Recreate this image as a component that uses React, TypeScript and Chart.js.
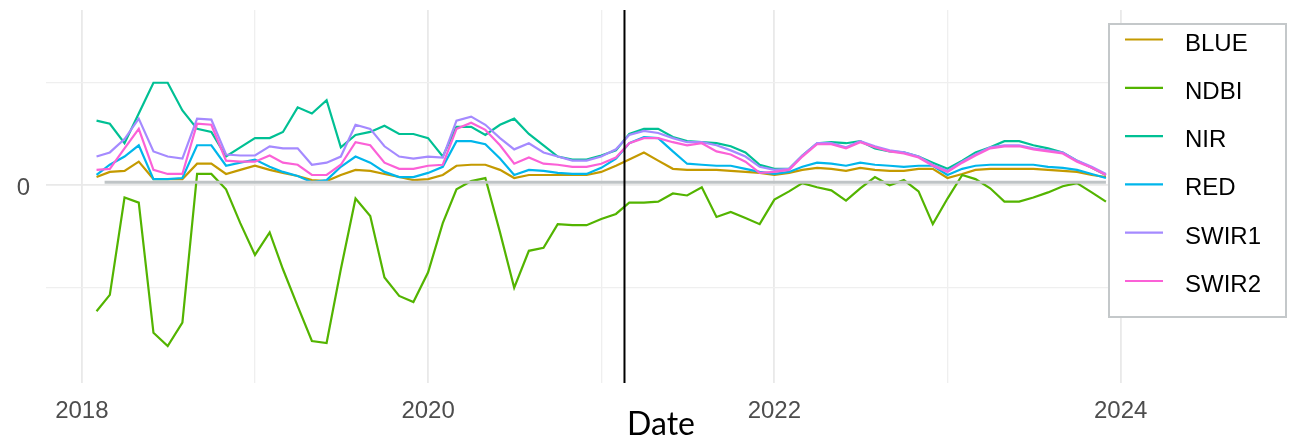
import React, { useEffect, useRef } from "react";
import { Chart, registerables } from "chart.js";

Chart.register(...registerables);

const DATES = [
  "2018-02-01", "2018-03-01", "2018-04-01", "2018-05-01", "2018-06-01", "2018-07-01", "2018-08-01", "2018-09-01", "2018-10-01", "2018-11-01", "2018-12-01",
  "2019-01-01", "2019-02-01", "2019-03-01", "2019-04-01", "2019-05-01", "2019-06-01", "2019-07-01", "2019-08-01", "2019-09-01", "2019-10-01", "2019-11-01", "2019-12-01",
  "2020-01-01", "2020-02-01", "2020-03-01", "2020-04-01", "2020-05-01", "2020-06-01", "2020-07-01", "2020-08-01", "2020-09-01", "2020-10-01", "2020-11-01", "2020-12-01",
  "2021-01-01", "2021-02-01", "2021-03-01", "2021-04-01", "2021-05-01", "2021-06-01", "2021-07-01", "2021-08-01", "2021-09-01", "2021-10-01", "2021-11-01", "2021-12-01",
  "2022-01-01", "2022-02-01", "2022-03-01", "2022-04-01", "2022-05-01", "2022-06-01", "2022-07-01", "2022-08-01", "2022-09-01", "2022-10-01", "2022-11-01", "2022-12-01",
  "2023-01-01", "2023-02-01", "2023-03-01", "2023-04-01", "2023-05-01", "2023-06-01", "2023-07-01", "2023-08-01", "2023-09-01", "2023-10-01", "2023-11-01", "2023-12-01",
];

const BLUE = [
  0.08, 0.13, 0.14, 0.23, 0.06, 0.06, 0.06, 0.21, 0.21, 0.11, 0.15,
  0.19, 0.15, 0.12, 0.09, 0.05, 0.04, 0.10, 0.15, 0.14, 0.11, 0.08, 0.05,
  0.06, 0.10, 0.19, 0.20, 0.20, 0.15, 0.07, 0.10, 0.10, 0.10, 0.10, 0.10,
  0.13, 0.19, 0.25, 0.32, 0.24, 0.16, 0.15, 0.15, 0.15, 0.14, 0.13, 0.12,
  0.10, 0.12, 0.15, 0.17, 0.16, 0.14, 0.17, 0.15, 0.14, 0.14, 0.16, 0.16,
  0.07, 0.11, 0.15, 0.16, 0.16, 0.16, 0.16, 0.15, 0.14, 0.13, 0.10, 0.08,
];

const NDBI = [
  -1.23, -1.07, -0.12, -0.17, -1.44, -1.57, -1.34, 0.11, 0.11, -0.04, -0.37,
  -0.68, -0.46, -0.82, -1.18, -1.52, -1.54, -0.82, -0.13, -0.30, -0.90, -1.08, -1.14,
  -0.85, -0.37, -0.04, 0.04, 0.07, -0.46, -1.0, -0.64, -0.61, -0.38, -0.39, -0.39,
  -0.33, -0.28, -0.17, -0.17, -0.16, -0.08, -0.10, -0.02, -0.31, -0.26, -0.32, -0.38,
  -0.14, -0.06, 0.02, -0.02, -0.05, -0.15, -0.03, 0.08, 0.0, 0.05, -0.06, -0.38,
  -0.13, 0.10, 0.06, -0.03, -0.16, -0.16, -0.12, -0.07, -0.01, 0.02, -0.07, -0.16,
];

const NIR = [
  0.63, 0.60, 0.41, 0.70, 1.0, 1.0, 0.73, 0.55, 0.52, 0.28, 0.37,
  0.46, 0.46, 0.52, 0.76, 0.70, 0.83, 0.37, 0.49, 0.52, 0.58, 0.50, 0.50,
  0.46, 0.28, 0.57, 0.57, 0.49, 0.59, 0.65, 0.50, 0.39, 0.28, 0.25, 0.25,
  0.29, 0.34, 0.50, 0.55, 0.55, 0.47, 0.43, 0.42, 0.41, 0.38, 0.32, 0.20,
  0.16, 0.16, 0.29, 0.41, 0.42, 0.41, 0.43, 0.36, 0.33, 0.32, 0.28, 0.22,
  0.16, 0.24, 0.32, 0.37, 0.43, 0.43, 0.39, 0.36, 0.32, 0.24, 0.17, 0.10,
];

const RED = [
  0.10, 0.20, 0.28, 0.39, 0.06, 0.06, 0.07, 0.39, 0.39, 0.19, 0.22,
  0.25, 0.18, 0.13, 0.09, 0.03, 0.05, 0.18, 0.28, 0.22, 0.13, 0.08, 0.08,
  0.12, 0.18, 0.43, 0.43, 0.40, 0.26, 0.10, 0.15, 0.14, 0.12, 0.11, 0.11,
  0.17, 0.26, 0.41, 0.47, 0.46, 0.33, 0.21, 0.20, 0.19, 0.19, 0.16, 0.13,
  0.11, 0.13, 0.18, 0.22, 0.21, 0.19, 0.22, 0.20, 0.19, 0.18, 0.19, 0.19,
  0.10, 0.16, 0.19, 0.20, 0.20, 0.20, 0.20, 0.18, 0.17, 0.15, 0.11, 0.07,
];

const SWIR1 = [
  0.28, 0.32, 0.45, 0.65, 0.33, 0.28, 0.26, 0.65, 0.64, 0.30, 0.29,
  0.29, 0.38, 0.36, 0.36, 0.20, 0.22, 0.28, 0.59, 0.55, 0.38, 0.28, 0.26,
  0.28, 0.27, 0.63, 0.67, 0.59, 0.46, 0.35, 0.41, 0.32, 0.28, 0.24, 0.24,
  0.28, 0.35, 0.49, 0.53, 0.51, 0.46, 0.42, 0.42, 0.39, 0.34, 0.28, 0.18,
  0.15, 0.16, 0.29, 0.41, 0.41, 0.37, 0.43, 0.38, 0.34, 0.32, 0.28, 0.20,
  0.14, 0.23, 0.30, 0.37, 0.39, 0.39, 0.36, 0.34, 0.32, 0.24, 0.18, 0.11,
];

const SWIR2 = [
  0.15, 0.16, 0.36, 0.55, 0.15, 0.11, 0.11, 0.60, 0.59, 0.24, 0.23,
  0.23, 0.29, 0.22, 0.20, 0.10, 0.10, 0.20, 0.42, 0.39, 0.22, 0.16, 0.16,
  0.19, 0.20, 0.55, 0.61, 0.54, 0.39, 0.21, 0.27, 0.21, 0.20, 0.18, 0.18,
  0.21, 0.27, 0.41, 0.46, 0.46, 0.42, 0.39, 0.41, 0.33, 0.30, 0.23, 0.12,
  0.13, 0.15, 0.28, 0.40, 0.40, 0.36, 0.42, 0.37, 0.33, 0.31, 0.27, 0.19,
  0.13, 0.22, 0.29, 0.36, 0.38, 0.38, 0.35, 0.33, 0.31, 0.23, 0.17, 0.10,
];

const SERIES_NAMES = ["BLUE", "NDBI", "NIR", "RED", "SWIR1", "SWIR2"];
const SERIES_VALUES = [BLUE, NDBI, NIR, RED, SWIR1, SWIR2];
const SERIES_COLORS = ["#C49A00", "#53B400", "#00C094", "#00B6EB", "#A58AFF", "#FB61D7"];

const BASELINE_DATES = ["2018-02-18", "2023-12-01"];
const BASELINE_VALUE = 0.03;
const EVENT_DATE = "2021-02-19";

const X_TICKS = [2018, 2019, 2020, 2021, 2022, 2023, 2024];
const X_LABELS = ["2018", "", "2020", "", "2022", "", "2024"];
const Y_TICKS = [-1, 0, 1];
const Y_LABELS = ["", "0", ""];

const X_MIN = 2017.793;
const X_MAX = 2024.21;
const Y_MIN = -1.93;
const Y_MAX = 1.71;

function toYear(s: string): number {
  const [y, m, d] = s.split("-").map(Number);
  const t = Date.UTC(y, m - 1, d || 1);
  const t0 = Date.UTC(y, 0, 1);
  const t1 = Date.UTC(y + 1, 0, 1);
  return y + (t - t0) / (t1 - t0);
}

const FONT = '"Liberation Sans", Arial, sans-serif';

const overlayPlugin = {
  id: "overlay",
  afterDraw(chart: any) {
    const ctx = chart.ctx as CanvasRenderingContext2D;
    ctx.save();
    ctx.fillStyle = "#ffffff";
    ctx.fillRect(1108, 23, 179, 295);
    ctx.strokeStyle = "#c4c8ca";
    ctx.lineWidth = 2;
    ctx.strokeRect(1109, 24, 177, 293);
    SERIES_NAMES.forEach((name, k) => {
      const y = 39.5 + k * 48.3;
      ctx.strokeStyle = SERIES_COLORS[k];
      ctx.lineWidth = 2.2;
      ctx.beginPath();
      ctx.moveTo(1125, y);
      ctx.lineTo(1163, y);
      ctx.stroke();
      ctx.fillStyle = "#000000";
      ctx.font = `24px ${FONT}`;
      ctx.textBaseline = "alphabetic";
      ctx.textAlign = "left";
      ctx.fillText(name, 1185, y + 11);
    });
    ctx.fillStyle = "#000000";
    ctx.font = '32px Lato, "Open Sans", sans-serif';
    ctx.textAlign = "center";
    ctx.textBaseline = "alphabetic";
    ctx.fillText("Date", 661, 435);
    ctx.restore();
  },
};

export default function App() {
  const ref = useRef<HTMLCanvasElement | null>(null);

  useEffect(() => {
    if (!ref.current) return;
    const seriesSets = SERIES_NAMES.map((name, k) => ({
      label: name,
      data: DATES.map((d, i) => ({ x: toYear(d), y: SERIES_VALUES[k][i] })),
      borderColor: SERIES_COLORS[k],
      backgroundColor: SERIES_COLORS[k],
      borderWidth: 2.2,
      pointRadius: 0,
      tension: 0,
      order: 10 - k,
    }));
    const baseline = {
      label: "baseline",
      data: BASELINE_DATES.map((d) => ({ x: toYear(d), y: BASELINE_VALUE })),
      borderColor: "#bfc4c6",
      borderWidth: 3,
      pointRadius: 0,
      order: 1,
    };
    const event = {
      label: "event",
      data: [
        { x: toYear(EVENT_DATE), y: Y_MIN },
        { x: toYear(EVENT_DATE), y: Y_MAX },
      ],
      borderColor: "#000000",
      borderWidth: 2,
      pointRadius: 0,
      order: 0,
    };

    const chart = new Chart(ref.current, {
      type: "line",
      data: { datasets: [...seriesSets, baseline, event] as any },
      options: {
        animation: false,
        responsive: false,
        devicePixelRatio: 1,
        layout: { padding: { left: 0, top: 10, right: 139, bottom: 0 } },
        plugins: { legend: { display: false }, tooltip: { enabled: false } },
        scales: {
          x: {
            type: "linear",
            min: X_MIN,
            max: X_MAX,
            afterBuildTicks: (s: any) => {
              s.ticks = X_TICKS.map((v) => ({ value: v }));
            },
            afterFit: (s: any) => {
              s.height = 58;
              s.paddingLeft = 0;
              s.paddingRight = 0;
            },
            border: { display: false },
            grid: {
              drawTicks: false,
              color: (c: any) => (c.index % 2 === 0 ? "#e9e9e9" : "#efefef"),
              lineWidth: (c: any) => (c.index % 2 === 0 ? 1.8 : 1.3),
            },
            ticks: {
              padding: 14,
              color: "#4d4d4d",
              font: { size: 24, family: FONT },
              maxRotation: 0,
              autoSkip: false,
              callback: (_v: any, i: number) => X_LABELS[i],
            },
          },
          y: {
            type: "linear",
            min: Y_MIN,
            max: Y_MAX,
            afterBuildTicks: (s: any) => {
              s.ticks = Y_TICKS.map((v) => ({ value: v }));
            },
            afterFit: (s: any) => {
              s.width = 46;
              s.paddingTop = 0;
              s.paddingBottom = 0;
            },
            border: { display: false },
            grid: {
              drawTicks: false,
              color: (c: any) => (c.index === 1 ? "#e9e9e9" : "#efefef"),
              lineWidth: (c: any) => (c.index === 1 ? 1.8 : 1.3),
            },
            ticks: {
              padding: 16,
              labelOffset: 3,
              color: "#4d4d4d",
              font: { size: 24, family: FONT },
              autoSkip: false,
              callback: (_v: any, i: number) => Y_LABELS[i],
            },
          },
        },
      },
      plugins: [overlayPlugin],
    });
    return () => chart.destroy();
  }, []);

  return (
    <div style={{ position: "fixed", left: 0, top: 0, width: 1296, height: 441, background: "#ffffff" }}>
      <canvas ref={ref} width={1296} height={441} style={{ display: "block" }} />
    </div>
  );
}
